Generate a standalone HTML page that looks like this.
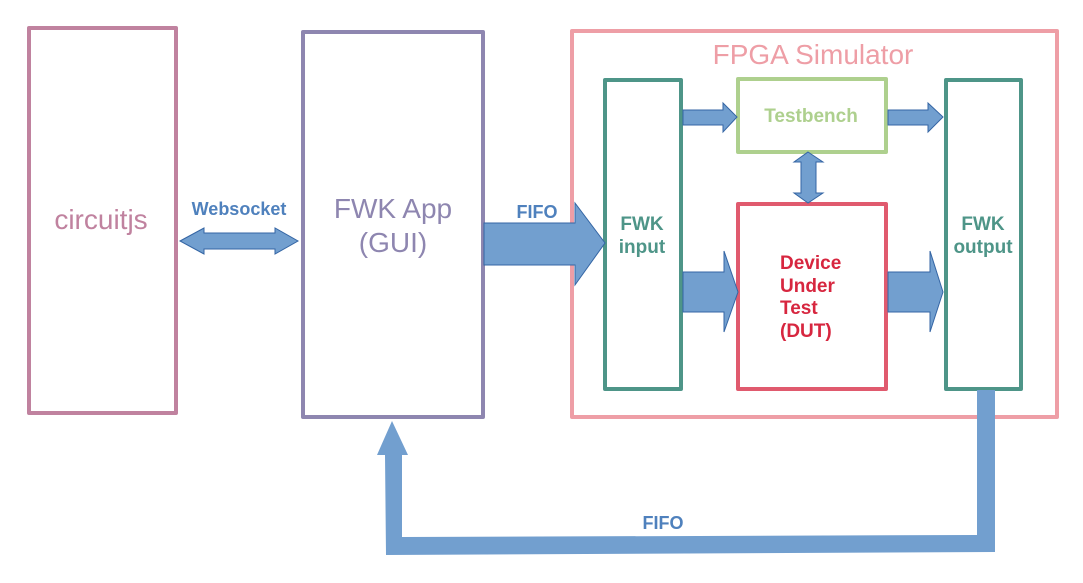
<!DOCTYPE html>
<html><head><style>
body{margin:0;background:#fff;}
svg text{font-family:"Liberation Sans",sans-serif;}
</style></head><body>
<svg width="1083" height="578" viewBox="0 0 1083 578" xmlns="http://www.w3.org/2000/svg">
<rect x="0" y="0" width="1083" height="578" fill="#fff"/>
<g fill="none" stroke-width="4" stroke-linejoin="round">
<rect x="29" y="28" width="147" height="385" stroke="#c0829f"/>
<rect x="303" y="32" width="180" height="385" stroke="#8e86b0"/>
<rect x="572" y="31" width="485" height="386" stroke="#ee9ea6"/>
<rect x="605" y="80" width="76" height="309" stroke="#4e9588"/>
<rect x="738" y="79" width="148" height="73" stroke="#aed08e"/>
<rect x="738" y="204" width="148" height="185" stroke="#e05a6e"/>
<rect x="946" y="80" width="75" height="309" stroke="#4e9588"/>
</g>
<g fill="#729fcf" stroke="#3465a4" stroke-width="1">
<polygon points="180,241 204,228 204,233 275,233 275,228 298,241 275,254 275,249 204,249 204,254"/>
<polygon points="484,223 575,223 575,203 605,243 575,285 575,265 484,265"/>
<polygon points="683,110 723,110 723,103 737,117 723,132 723,125 683,125"/>
<polygon points="888,110 928,110 928,103 943,117 928,132 928,125 888,125"/>
<polygon points="683,272 724,272 724,251 738,292 724,332 724,312 683,312"/>
<polygon points="888,272 930,272 930,251 943,292 930,332 930,312 888,312"/>
<polygon points="808,152 823,162 816,162 816,193 823,193 808,203 794,193 801,193 801,162 794,162"/>
</g>
<polygon fill="#729fcf" points="977,390 995,390 995,552 386,555 385,455 377,455 392,421 408,455 402,455 402,537 977,535"/>
<g font-weight="bold" font-size="18" fill="#4f81bd" text-anchor="middle">
<text x="239" y="215">Websocket</text>
<text x="537" y="218">FIFO</text>
<text x="663" y="529">FIFO</text>
</g>
<text x="101" y="229" font-size="28" fill="#c0829f" text-anchor="middle">circuitjs</text>
<text x="393" y="218" font-size="28" fill="#8e86b0" text-anchor="middle">FWK App</text>
<text x="393" y="252" font-size="28" fill="#8e86b0" text-anchor="middle">(GUI)</text>
<text x="813" y="64" font-size="28" fill="#ee9ea6" text-anchor="middle">FPGA Simulator</text>
<g font-weight="bold" font-size="19" text-anchor="middle">
<text x="642" y="230" fill="#4e9588">FWK</text>
<text x="642" y="253" fill="#4e9588">input</text>
<text x="983" y="230" fill="#4e9588">FWK</text>
<text x="983" y="253" fill="#4e9588">output</text>
<text x="811" y="122" fill="#aed08e">Testbench</text>
</g>
<g font-weight="bold" font-size="19" fill="#d7263f">
<text x="780" y="269">Device</text>
<text x="780" y="292">Under</text>
<text x="780" y="314">Test</text>
<text x="780" y="337">(DUT)</text>
</g>
</svg>
</body></html>
